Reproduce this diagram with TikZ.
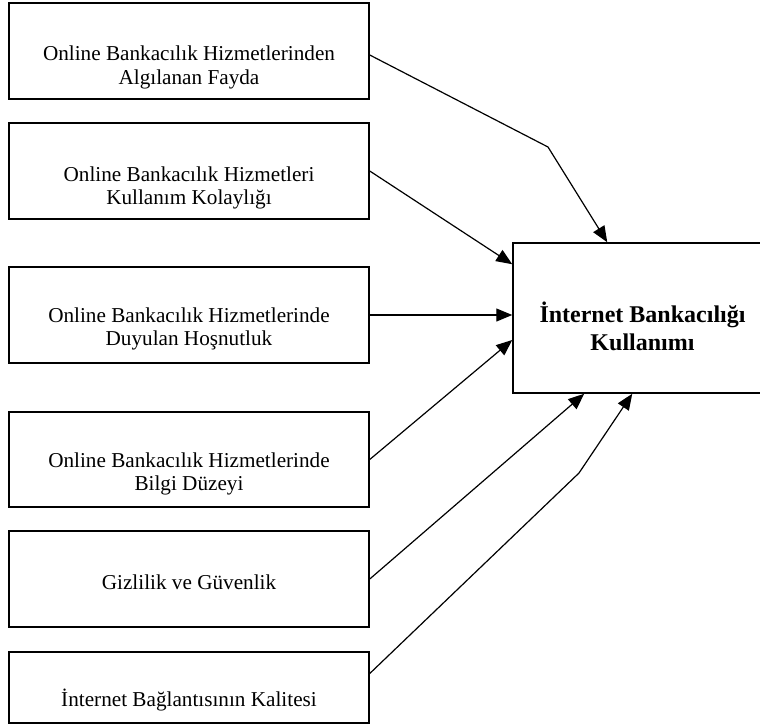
\documentclass[tikz,border=0pt]{standalone}
\usepackage{fontspec}
\setmainfont{Liberation Serif}
\usetikzlibrary{arrows.meta}

\begin{document}
\begin{tikzpicture}[x=1pt,y=-1pt,
  kutu/.style={draw,line width=1.5pt,minimum width=360pt,minimum height=96pt,inner sep=0pt},
  yazi/.style={align=center,font=\fontsize{21.2}{23.5}\selectfont},
  ok/.style={-{Triangle[length=16pt,width=13pt]},line width=1.2pt}]
\useasboundingbox (0,0) rectangle (760,726);
% sol kutular
\node[kutu] (k1) at (189,51) {};
\node[kutu] (k2) at (189,171) {};
\node[kutu] (k3) at (189,315) {};
\node[kutu,minimum height=95pt] (k4) at (189,459.5) {};
\node[kutu] (k5) at (189,579) {};
\node[kutu,minimum height=71pt] (k6) at (189,687.5) {};
\node[yazi] (t1) at (189,67.5) {Online Bankacılık Hizmetlerinden\\Algılanan Fayda};
\node[yazi] (t2) at (189,188) {Online Bankacılık Hizmetleri\\Kullanım Kolaylığı};
\node[yazi] (t3) at (189,329) {Online Bankacılık Hizmetlerinde\\Duyulan Hoşnutluk};
\node[yazi] (t4) at (189,474) {Online Bankacılık Hizmetlerinde\\Bilgi Düzeyi};
\node[yazi] (t5) at (189,582) {Gizlilik ve Güvenlik};
\node[yazi] (t6) at (189,700) {İnternet Bağlantısının Kalitesi};
% sag kutu
\node[kutu,minimum width=290pt,minimum height=150pt] (hedef) at (658,318) {};
\node[align=center,font=\fontsize{24}{28}\selectfont\bfseries] (th) at (642.5,326) {İnternet Bankacılığı\\Kullanımı};
% oklar
\coordinate (d1) at (548,147);
\coordinate (d6) at (579,473);
\draw[ok] ([yshift=-4pt]k1.east) -- (d1) -- ([xshift=95pt]hedef.north west);
\draw[ok] (k2.east) -- ([yshift=-22pt]hedef.north west);
\draw[ok] (k3.east) -- ([yshift=3pt]hedef.west);
\draw[ok] (k4.east) -- ([yshift=-22pt]hedef.west);
\draw[ok] (k5.east) -- ([xshift=72pt]hedef.south west);
\draw[ok] ([yshift=14pt]k6.east) -- (d6) -- ([xshift=120pt]hedef.south west);
\end{tikzpicture}
\end{document}
